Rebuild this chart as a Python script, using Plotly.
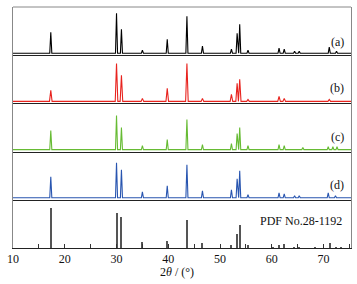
import plotly.graph_objects as go
from plotly.subplots import make_subplots

# ---- data (2theta in degrees, intensity in arbitrary units) ----
pos_a = [17.3, 30.0, 30.95, 35.0, 39.8, 43.6, 46.6, 52.2, 53.3, 53.8, 55.4, 61.4, 62.4, 64.4, 65.3, 71.1, 72.5]
int_a = [21, 40, 24, 3, 14, 37, 7, 4, 20, 29, 3, 5, 4, 2, 2, 6, 2]

pos_b = [17.3, 30.0, 30.95, 35.0, 39.8, 43.6, 46.6, 52.2, 53.3, 53.8, 55.4, 61.4, 62.4, 71.1]
int_b = [11, 38, 26, 3, 13, 38, 3, 7, 18, 22, 2, 5, 3, 2]

pos_c = [17.3, 30.0, 30.95, 35.0, 39.8, 43.6, 46.6, 52.2, 53.3, 53.8, 55.4, 61.4, 62.4, 66.0, 70.9, 71.8, 72.6]
int_c = [19, 34, 22, 4, 10, 30, 5, 6, 16, 22, 4, 5, 4, 2, 3, 3, 3]

pos_d = [17.3, 30.0, 30.95, 35.0, 39.8, 43.6, 46.6, 52.2, 53.3, 53.8, 55.4, 61.4, 62.4, 64.4, 65.3, 70.9, 72.3]
int_d = [21, 35, 28, 6, 12, 33, 7, 8, 19, 27, 3, 5, 4, 2, 2, 5, 2]

pdf_pos = [17.3, 30.0, 30.95, 35.0, 39.8, 43.6, 46.6, 52.2, 53.3, 53.8, 55.4, 60.2, 61.4, 62.4, 64.3, 65.2, 68.4, 71.2, 72.4, 73.3]
pdf_int = [40, 35, 31, 6, 7, 28, 5, 3, 14, 23, 3.5, 1, 3.5, 4, 1.5, 1.5, 1, 5, 1.5, 1]

labels = ["(a)", "(b)", "(c)", "(d)"]
pdf_label = "PDF No.28-1192"
x_ticks = [10, 20, 30, 40, 50, 60, 70]


def profile(pos, inten, hw, x0=10.0, x1=75.5):
    """Polyline through the read peak apexes with triangular feet."""
    pk = sorted(zip(pos, inten))
    xs, ys = [x0], [0]
    for i, (p, h) in enumerate(pk):
        if not (i > 0 and pk[i - 1][0] + hw > p - hw):
            xs.append(p - hw); ys.append(0)
        xs.append(p); ys.append(h)
        if i + 1 < len(pk) and p + hw > pk[i + 1][0] - hw:
            p2, h2 = pk[i + 1]
            a1 = -h / hw; b1 = h + h * p / hw
            a2 = h2 / hw; b2 = h2 - h2 * p2 / hw
            xv = (b2 - b1) / (a1 - a2)
            yv = a1 * xv + b1
            xs.append(xv); ys.append(max(yv, 0))
        else:
            xs.append(p + hw); ys.append(0)
    xs.append(x1); ys.append(0)
    return xs, ys


series = [
    (pos_a, int_a, "#000000", 0.2),
    (pos_b, int_b, "#e8231e", 0.25),
    (pos_c, int_c, "#66bb33", 0.2),
    (pos_d, int_d, "#2855b0", 0.2),
]

fig = make_subplots(rows=5, cols=1, shared_xaxes=True, vertical_spacing=0)

for i, (p, h, col, hw) in enumerate(series):
    xs, ys = profile(p, h, hw)
    fig.add_trace(go.Scatter(x=xs, y=ys, mode="lines",
                             line=dict(color=col, width=1.1), showlegend=False,
                             hoverinfo="skip"), row=i + 1, col=1)

fig.add_trace(go.Bar(x=pdf_pos, y=pdf_int, width=0.2,
                     marker=dict(color="#555555", line=dict(width=0)),
                     showlegend=False, hoverinfo="skip"), row=5, col=1)

font = dict(family="Liberation Serif, Times New Roman, serif", size=12, color="#111")

for r in range(1, 6):
    fig.update_xaxes(range=[10, 75.3], showline=True, linecolor="#222", linewidth=1,
                     showgrid=False, zeroline=False, mirror=False, automargin=False,
                     ticks="", showticklabels=False, row=r, col=1)
    rng = [-2, 46.2] if r < 5 else [0, 48.2]
    fig.update_yaxes(range=rng, showline=True, linecolor="#888", linewidth=1,
                     mirror=True, showgrid=False, zeroline=False, automargin=False,
                     ticks="", showticklabels=False, row=r, col=1)

fig.update_xaxes(ticks="inside", ticklen=4, tickcolor="#333", tickwidth=1,
                 tickvals=x_ticks, showticklabels=True, tickfont=font,
                 minor=dict(ticks="inside", ticklen=4, dtick=5, tick0=5, tickcolor="#333"),
                 row=5, col=1)

# frame top
fig.add_shape(type="line", xref="paper", yref="paper", x0=0, x1=1, y0=1, y1=1,
              line=dict(color="#888", width=1))

# x-axis title
fig.add_annotation(text="2<i>θ</i> / (°)", xref="paper", yref="paper",
                   x=(177 - 13) / 338, y=-(272 - 248) / 241, showarrow=False,
                   font=font, xanchor="center", yanchor="middle")

ann_y = [42, 88, 137, 185]
for i, t in enumerate(labels):
    fig.add_annotation(text=t, xref="paper", yref="paper",
                       x=(337 - 13) / 338, y=1 - (ann_y[i] - 7) / 241,
                       showarrow=False, font=font, xanchor="center", yanchor="middle")
fig.add_annotation(text=pdf_label, xref="paper", yref="paper",
                   x=(344 - 13) / 338, y=1 - (220.5 - 7) / 241,
                   showarrow=False, font=font, xanchor="right", yanchor="middle")

fig.update_layout(width=357, height=284, margin=dict(l=13, r=6, t=7, b=36, autoexpand=False),
                  paper_bgcolor="white", plot_bgcolor="white", bargap=0)

fig.write_html("out.html", config={"displayModeBar": False},
               post_script="document.body.style.margin='0';document.body.style.padding='0';")
